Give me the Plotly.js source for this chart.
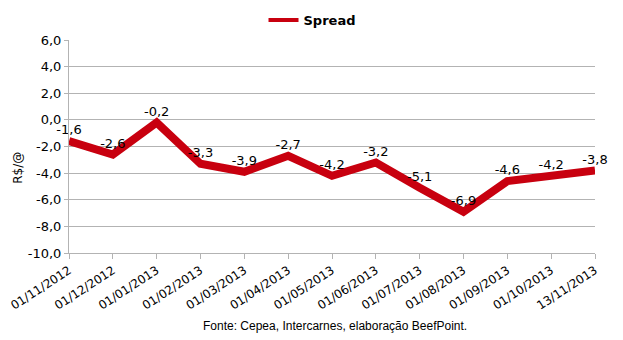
<!DOCTYPE html>
<html>
<head>
<meta charset="utf-8">
<script src="https://cdn.plot.ly/plotly-3.0.1.min.js"></script>
<style>html,body{margin:0;padding:0;background:#fff;}#chart{width:623px;height:340px;}</style>
</head>
<body>
<div id="chart"></div>
<script>
const categories = ["01/11/2012","01/12/2012","01/01/2013","01/02/2013","01/03/2013","01/04/2013","01/05/2013","01/06/2013","01/07/2013","01/08/2013","01/09/2013","01/10/2013","13/11/2013"];
const spread = [-1.6, -2.6, -0.2, -3.3, -3.9, -2.7, -4.2, -3.2, -5.1, -6.9, -4.6, -4.2, -3.8];
const yTicks = [6, 4, 2, 0, -2, -4, -6, -8, -10];
const seriesName = "Spread";
const yTitle = "R$/@";
const footer = "Fonte: Cepea, Intercarnes, elaboração BeefPoint.";

const xs = categories.map((c, i) => i);
const labels = spread.map(v => v.toFixed(1).replace('.', ','));
const yTickText = yTicks.map(v => v.toFixed(1).replace('.', ','));
const FONT = 'DejaVu Sans, Verdana, sans-serif';
const RED = '#c8000f';

const trace = {
  x: xs, y: spread, type: 'scatter', mode: 'lines+markers+text', name: seriesName,
  showlegend: false,
  line: {color: RED, width: 8},
  marker: {size: 4, color: 'rgba(0,0,0,0)'},
  text: labels, textposition: 'top center',
  textfont: {family: FONT, size: 13, color: '#000'},
  cliponaxis: false
};
const legendTrace = {
  x: [null], y: [null], type: 'scatter', mode: 'lines', name: seriesName,
  line: {color: RED, width: 4}, showlegend: true
};

const layout = {
  width: 623, height: 340,
  margin: {l: 69, r: 28, t: 40, b: 87},
  paper_bgcolor: '#fff', plot_bgcolor: '#fff',
  showlegend: true,
  legend: {orientation: 'h', x: 0.462, xanchor: 'center', y: 0.985, yref: 'container', yanchor: 'top',
    itemwidth: 30,
    font: {family: FONT, size: 13, color: '#000', weight: 'bold'}},
  xaxis: {
    range: [0, 12], tickvals: xs, ticktext: categories, tickangle: -33,
    showgrid: false, zeroline: false, showline: true, linecolor: '#b3b3b3', linewidth: 1,
    ticks: 'outside', ticklen: 5, tickcolor: '#b3b3b3',
    tickfont: {family: FONT, size: 12, color: '#000'}
  },
  yaxis: {
    range: [-10, 6], tickvals: yTicks, ticktext: yTickText,
    showgrid: true, gridcolor: '#b3b3b3', gridwidth: 1, zeroline: false,
    showline: true, linecolor: '#b3b3b3', ticks: 'outside', ticklen: 4, tickcolor: '#b3b3b3',
    tickfont: {family: FONT, size: 13, color: '#000'}
  },
  annotations: [
    {text: yTitle, xref: 'paper', yref: 'paper', x: -0.097, y: 0.40, xanchor: 'center', yanchor: 'middle', textangle: -90, showarrow: false,
      font: {family: FONT, size: 12, color: '#000'}},
    {text: footer, xref: 'paper', yref: 'paper', x: 0.505, y: -0.343, xanchor: 'center', yanchor: 'middle', showarrow: false,
      font: {family: 'Liberation Sans, Arial, sans-serif', size: 12, color: '#000'}}
  ]
};

Plotly.newPlot('chart', [trace, legendTrace], layout, {displayModeBar: false, staticPlot: true});
</script>
</body>
</html>
